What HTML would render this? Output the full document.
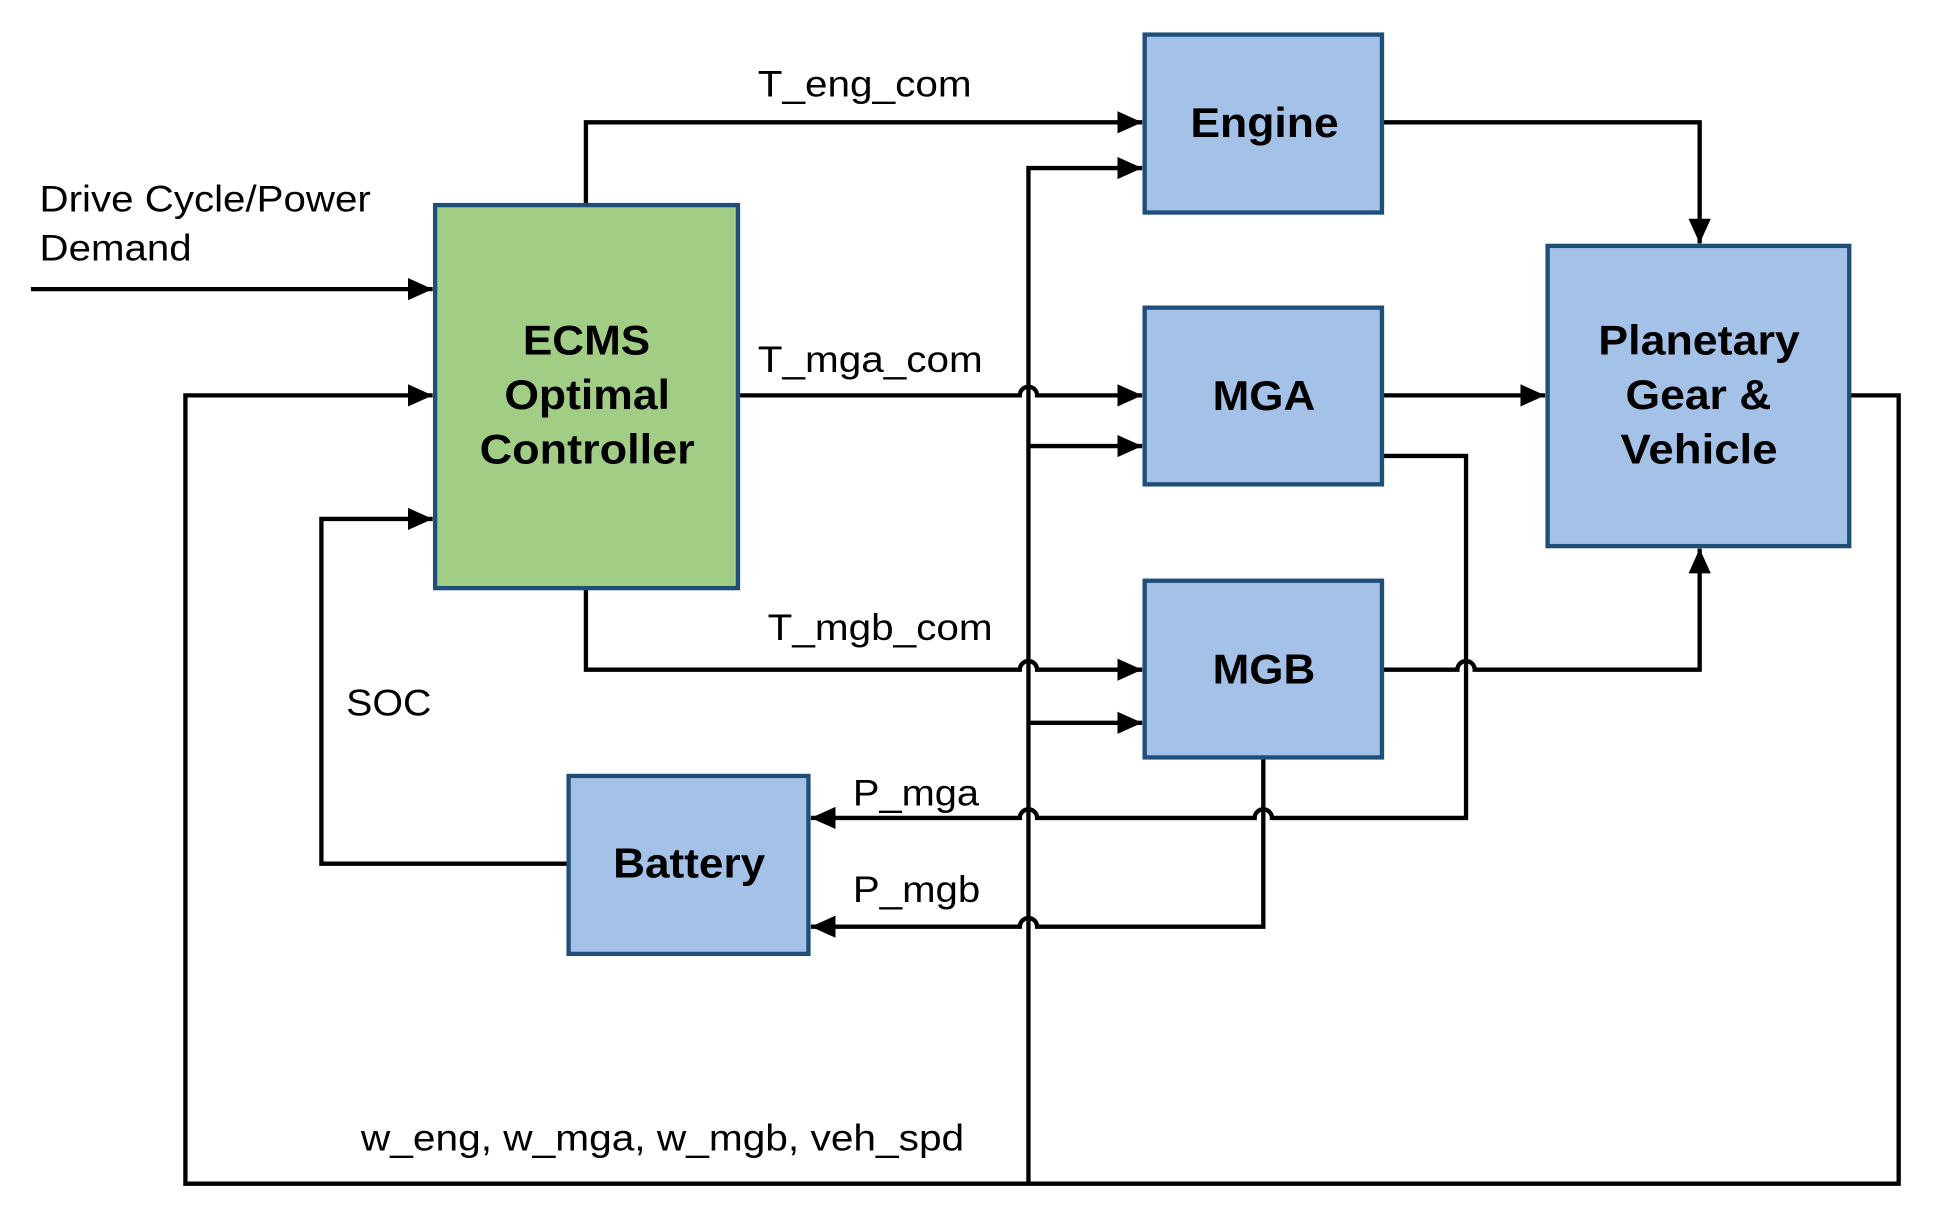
<!DOCTYPE html>
<html><head><style>html,body{margin:0;padding:0;background:#fff}svg{display:block}</style></head>
<body>
<svg width="1937" height="1222" viewBox="0 0 1567 989" preserveAspectRatio="none" xmlns="http://www.w3.org/2000/svg">
<defs>
<marker id="b" markerWidth="20" markerHeight="20" refX="20" refY="10" orient="auto" markerUnits="userSpaceOnUse" viewBox="0 0 20 20">
<path d="M0,1 L20,10 L0,19 z" fill="#000"/></marker>
</defs>
<g fill="none" stroke="#000" stroke-width="3.5">
<path d="M25,234 H350" marker-end="url(#b)"/>
<path d="M474,166 V99 H924" marker-end="url(#b)"/>
<path d="M1118,99 H1375 V197" marker-end="url(#b)"/>
<path d="M832,958 V136 H924" marker-end="url(#b)"/>
<path d="M832,361 H924" marker-end="url(#b)"/>
<path d="M832,585 H924" marker-end="url(#b)"/>
<path d="M597,320 H825 a7,7 0 0 1 14,0 H924" marker-end="url(#b)"/>
<path d="M1118,320 H1250" marker-end="url(#b)"/>
<path d="M1118,369 H1186 V662 H1029 a7,7 0 0 0 -14,0 H839 a7,7 0 0 0 -14,0 H656" marker-end="url(#b)"/>
<path d="M474,476 V542 H825 a7,7 0 0 1 14,0 H924" marker-end="url(#b)"/>
<path d="M1118,542 H1179 a7,7 0 0 1 14,0 H1375 V444" marker-end="url(#b)"/>
<path d="M1022,613 V750 H839 a7,7 0 0 0 -14,0 H656" marker-end="url(#b)"/>
<path d="M1496,320 H1536 V958 H150 V320 H350" marker-end="url(#b)"/>
<path d="M460,699 H260 V420 H350" marker-end="url(#b)"/>
</g>
<g stroke="#1f4e79" stroke-width="3.5">
<rect x="352" y="166" width="245" height="310" fill="#a2cd85"/>
<rect x="926" y="28" width="192" height="144" fill="#a4c2e8"/>
<rect x="926" y="249" width="192" height="143" fill="#a4c2e8"/>
<rect x="926" y="470" width="192" height="143" fill="#a4c2e8"/>
<rect x="1252" y="199" width="244" height="243" fill="#a4c2e8"/>
<rect x="460" y="628" width="194" height="144" fill="#a4c2e8"/>
</g>
<g font-family="Liberation Sans, sans-serif" font-weight="bold" font-size="34" fill="#000" lengthAdjust="spacingAndGlyphs">
<text x="423" y="287" textLength="103" lengthAdjust="spacingAndGlyphs">ECMS</text>
<text x="408" y="331" textLength="134" lengthAdjust="spacingAndGlyphs">Optimal</text>
<text x="388" y="375" textLength="174" lengthAdjust="spacingAndGlyphs">Controller</text>
<text x="963" y="111" textLength="120" lengthAdjust="spacingAndGlyphs">Engine</text>
<text x="981" y="332" textLength="83" lengthAdjust="spacingAndGlyphs">MGA</text>
<text x="981" y="553" textLength="83" lengthAdjust="spacingAndGlyphs">MGB</text>
<text x="1293" y="287" textLength="163" lengthAdjust="spacingAndGlyphs">Planetary</text>
<text x="1315" y="331" textLength="118" lengthAdjust="spacingAndGlyphs">Gear &amp;</text>
<text x="1311" y="375" textLength="127" lengthAdjust="spacingAndGlyphs">Vehicle</text>
<text x="496" y="710" textLength="123" lengthAdjust="spacingAndGlyphs">Battery</text>
</g>
<g font-family="Liberation Sans, sans-serif" font-size="30" fill="#000">
<text x="32" y="171" textLength="268" lengthAdjust="spacingAndGlyphs">Drive Cycle/Power</text>
<text x="32" y="211" textLength="123" lengthAdjust="spacingAndGlyphs">Demand</text>
<text x="613" y="78" textLength="173" lengthAdjust="spacingAndGlyphs">T_eng_com</text>
<text x="613" y="301" textLength="182" lengthAdjust="spacingAndGlyphs">T_mga_com</text>
<text x="621" y="518" textLength="182" lengthAdjust="spacingAndGlyphs">T_mgb_com</text>
<text x="280" y="579" textLength="69" lengthAdjust="spacingAndGlyphs">SOC</text>
<text x="690" y="652" textLength="102" lengthAdjust="spacingAndGlyphs">P_mga</text>
<text x="690" y="730" textLength="103" lengthAdjust="spacingAndGlyphs">P_mgb</text>
<text x="292" y="931" textLength="488" lengthAdjust="spacingAndGlyphs">w_eng, w_mga, w_mgb, veh_spd</text>
</g>
</svg>
</body></html>
